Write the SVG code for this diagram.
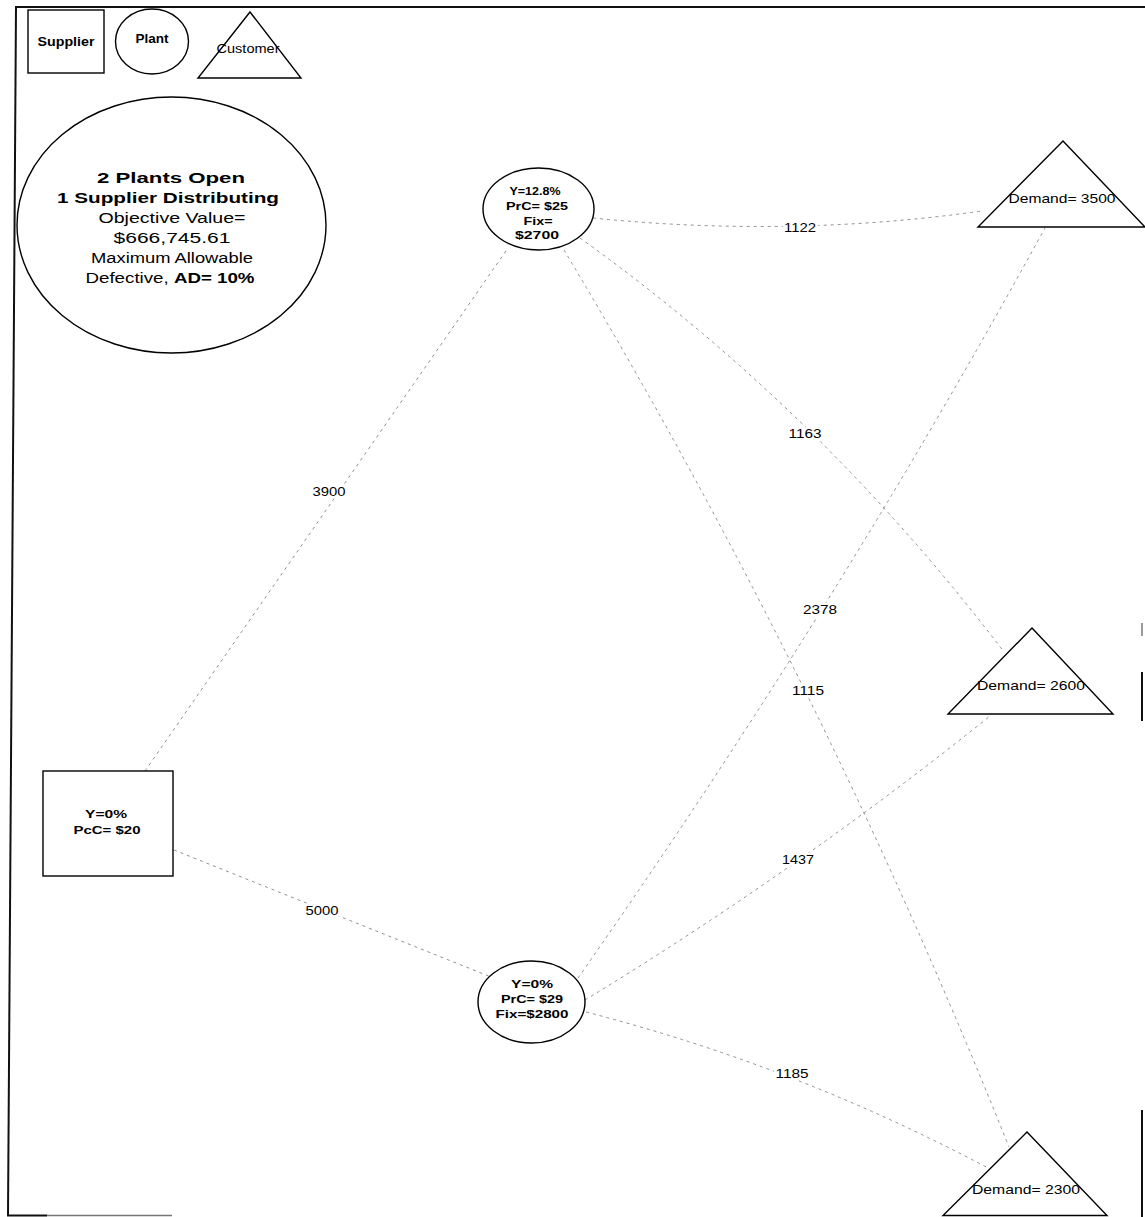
<svg xmlns="http://www.w3.org/2000/svg" width="1145" height="1217" viewBox="0 0 1145 1217">
  <style>
    .frame { stroke: #111; stroke-width: 2; fill: none; }
    .frame-lite { stroke: #777; stroke-width: 1.5; fill: none; }
    .node { fill: #fff; stroke: #000; stroke-width: 1.4; }
    .edge { fill: none; stroke: #909090; stroke-width: 1; stroke-dasharray: 3 4; }
    text { font-family: "Liberation Sans", Arial, Helvetica, sans-serif; fill: #000; text-anchor: middle; }
    .lg { font-size: 13px; }
    .info { font-size: 14px; }
    .nt { font-size: 11.5px; font-weight: bold; }
    .dt { font-size: 13px; }
    .lbl { font-size: 13px; paint-order: stroke; stroke: #fff; stroke-width: 5px; stroke-linejoin: round; }
    .b { font-weight: bold; }
  </style>

  <rect width="1145" height="1217" fill="#fff"/>

  <!-- page frame (partly faded at the bottom and right) -->
  <g id="frame">
    <line class="frame" x1="15" y1="7" x2="1145" y2="7"/>
    <line class="frame" x1="16" y1="7" x2="8" y2="1216"/>
    <line class="frame" x1="7" y1="1215.5" x2="47" y2="1215.5"/>
    <line class="frame-lite" x1="47" y1="1215.5" x2="172" y2="1215.5"/>
    <line class="frame-lite" x1="1142" y1="623" x2="1142" y2="636"/>
    <line class="frame" x1="1142" y1="672" x2="1142" y2="721"/>
    <line class="frame" x1="1142" y1="1110" x2="1142" y2="1217"/>
  </g>

  <!-- flows between supplier, plants and customers -->
  <g id="connectors">
    <path id="e-s-p1" class="edge" d="M 145 771 L 508 248"/>
    <path id="e-s-p2" class="edge" d="M 174 850 L 491 977"/>
    <path id="e-p1-c1" class="edge" d="M 593 218 Q 790 238 982 211"/>
    <path id="e-p1-c2" class="edge" d="M 580 238 Q 820 410 1004 652"/>
    <path id="e-p1-c3" class="edge" d="M 564 250 Q 822 680 1009 1147"/>
    <path id="e-p2-c1" class="edge" d="M 578 978 Q 832 616 1045 228"/>
    <path id="e-p2-c2" class="edge" d="M 585 1000 Q 797 871 990 716"/>
    <path id="e-p2-c3" class="edge" d="M 586 1012 Q 796 1066 988 1168"/>

    <text class="lbl" x="329" y="496" textLength="33" lengthAdjust="spacingAndGlyphs">3900</text>
    <text class="lbl" x="322" y="915" textLength="33" lengthAdjust="spacingAndGlyphs">5000</text>
    <text class="lbl" x="800" y="232" textLength="32" lengthAdjust="spacingAndGlyphs">1122</text>
    <text class="lbl" x="805" y="438" textLength="33" lengthAdjust="spacingAndGlyphs">1163</text>
    <text class="lbl" x="820" y="614" textLength="34" lengthAdjust="spacingAndGlyphs">2378</text>
    <text class="lbl" x="808" y="695" textLength="32" lengthAdjust="spacingAndGlyphs">1115</text>
    <text class="lbl" x="798" y="864" textLength="32" lengthAdjust="spacingAndGlyphs">1437</text>
    <text class="lbl" x="792" y="1078" textLength="33" lengthAdjust="spacingAndGlyphs">1185</text>
  </g>

  <!-- legend -->
  <g id="legend-supplier">
    <rect class="node" x="28" y="10" width="76" height="63"/>
    <text class="lg b" x="66" y="46" textLength="57" lengthAdjust="spacingAndGlyphs">Supplier</text>
  </g>
  <g id="legend-plant">
    <ellipse class="node" cx="152" cy="41.5" rx="36.5" ry="32.5"/>
    <text class="lg b" x="152" y="43" textLength="33" lengthAdjust="spacingAndGlyphs">Plant</text>
  </g>
  <g id="legend-customer">
    <polygon class="node" points="250,12 301,78 198,78"/>
    <text class="lg" x="248" y="53" textLength="63" lengthAdjust="spacingAndGlyphs">Customer</text>
  </g>

  <!-- solution summary -->
  <g id="summary">
    <ellipse class="node" cx="171.5" cy="225" rx="154.5" ry="128"/>
    <text class="info b" x="171" y="183" textLength="148" lengthAdjust="spacingAndGlyphs">2 Plants Open</text>
    <text class="info b" x="168" y="203" textLength="222" lengthAdjust="spacingAndGlyphs">1 Supplier Distributing</text>
    <text class="info" x="172" y="223" textLength="147" lengthAdjust="spacingAndGlyphs">Objective Value=</text>
    <text class="info" x="172" y="243" textLength="117" lengthAdjust="spacingAndGlyphs">$666,745.61</text>
    <text class="info" x="172" y="263" textLength="162" lengthAdjust="spacingAndGlyphs">Maximum Allowable</text>
    <text class="info" x="170" y="283" textLength="169" lengthAdjust="spacingAndGlyphs">Defective, <tspan class="b">AD= 10%</tspan></text>
  </g>

  <!-- supplier -->
  <g id="supplier">
    <rect class="node" x="43" y="771" width="130" height="105"/>
    <text class="nt" x="106" y="818" textLength="42" lengthAdjust="spacingAndGlyphs">Y=0%</text>
    <text class="nt" x="107" y="834" textLength="67" lengthAdjust="spacingAndGlyphs">PcC= $20</text>
  </g>

  <!-- plants -->
  <g id="plant-1">
    <ellipse class="node" cx="538.5" cy="209" rx="55.5" ry="41"/>
    <text class="nt" x="535" y="195" textLength="51" lengthAdjust="spacingAndGlyphs">Y=12.8%</text>
    <text class="nt" x="537" y="210" textLength="62" lengthAdjust="spacingAndGlyphs">PrC= $25</text>
    <text class="nt" x="538" y="225" textLength="29" lengthAdjust="spacingAndGlyphs">Fix=</text>
    <text class="nt" x="537" y="239" textLength="44" lengthAdjust="spacingAndGlyphs">$2700</text>
  </g>
  <g id="plant-2">
    <ellipse class="node" cx="531.5" cy="1002" rx="53.5" ry="41"/>
    <text class="nt" x="532" y="988" textLength="42" lengthAdjust="spacingAndGlyphs">Y=0%</text>
    <text class="nt" x="532" y="1003" textLength="62" lengthAdjust="spacingAndGlyphs">PrC= $29</text>
    <text class="nt" x="532" y="1018" textLength="73" lengthAdjust="spacingAndGlyphs">Fix=$2800</text>
  </g>

  <!-- customers -->
  <g id="customer-1">
    <polygon class="node" points="1063,141 1145,227 978,227"/>
    <text class="dt" x="1062" y="203" textLength="107" lengthAdjust="spacingAndGlyphs">Demand= 3500</text>
  </g>
  <g id="customer-2">
    <polygon class="node" points="1032,628 1113,714 948,714"/>
    <text class="dt" x="1031" y="690" textLength="108" lengthAdjust="spacingAndGlyphs">Demand= 2600</text>
  </g>
  <g id="customer-3">
    <polygon class="node" points="1027,1132 1107,1215.5 943,1215.5"/>
    <text class="dt" x="1026" y="1194" textLength="108" lengthAdjust="spacingAndGlyphs">Demand= 2300</text>
  </g>
</svg>
